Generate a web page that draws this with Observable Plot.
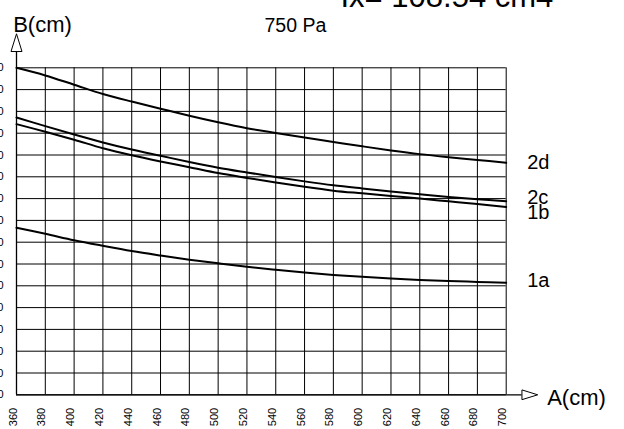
<!DOCTYPE html>
<html>
<head>
<meta charset="utf-8">
<script src="https://cdn.jsdelivr.net/npm/d3@7"></script>
<script src="https://cdn.jsdelivr.net/npm/@observablehq/plot@0.6"></script>
<style>
  html, body { margin: 0; padding: 0; background: white; }
  #chart svg { display: block; }
</style>
</head>
<body>
<div id="chart"></div>
<script>
// ---- data ----
const xTicks = [360, 380, 400, 420, 440, 460, 480, 500, 520, 540, 560, 580, 600, 620, 640, 660, 680, 700];
const yTicks = [0, 20, 40, 60, 80, 100, 120, 140, 160, 180, 200, 220, 240, 260, 280, 300];
const seriesNames = ["2d", "2c", "1b", "1a"];
const b2d = [300, 293, 284.5, 276, 269, 262.5, 256, 250, 244.6, 240.2, 236, 232, 228, 224.2, 220.8, 218, 215.5, 212.8];
const b2c = [254.4, 246.5, 238.8, 231.5, 225, 219.3, 213.6, 208.4, 204, 199.8, 195.8, 192.2, 189.3, 186.6, 184, 181.5, 179.4, 177.6];
const b1b = [248.3, 241.3, 234, 226.2, 219.7, 214, 208.8, 203.4, 199, 194.8, 190.8, 187.3, 184.8, 182.4, 180, 177.5, 175, 172.3];
const b1a = [153.2, 147.7, 141.8, 136.7, 131.9, 127.8, 124, 120.6, 117.4, 114.7, 112.2, 110, 108.2, 106.7, 105.4, 104.4, 103.6, 102.8];
const titleText = "Ix= 108.54 cm4";
const subText = "750 Pa";
const yLabel = "B(cm)";
const xLabel = "A(cm)";

const seriesValues = [b2d, b2c, b1b, b1a];
const rows = seriesNames.flatMap((s, i) => xTicks.map((x, j) => ({series: s, x, y: seriesValues[i][j]})));
const ends = seriesNames.map((s, i) => ({series: s, x: xTicks[xTicks.length - 1], y: seriesValues[i][xTicks.length - 1]}));

const font = "Liberation Sans, Arial, Helvetica, sans-serif";

// tall open triangle symbol (points up)
const arrowSymbol = {
  draw(context, size) {
    const r = Math.sqrt(size / Math.PI);
    context.moveTo(0, -r);
    context.lineTo(0.61 * r, 0.97 * r);
    context.lineTo(-0.61 * r, 0.97 * r);
    context.closePath();
  }
};

// vertical label offsets (px) so the end labels do not collide
const labelDy = {"2d": 6, "2c": 2.6, "1b": 12.3, "1a": 4.4};
const labelMarks = ends.map(e =>
  Plot.text([e], {x: "x", y: "y", text: "series", textAnchor: "start", lineAnchor: "bottom",
    dx: 21, dy: labelDy[e.series], fontSize: 20, fill: "black"})
);

const chart = Plot.plot({
  width: 624,
  height: 429,
  marginLeft: 16,
  marginRight: 118.3,
  marginTop: 67.3,
  marginBottom: 34.7,
  x: {domain: [360, 700], axis: null},
  y: {domain: [0, 300], axis: null},
  style: {fontFamily: font, background: "white", color: "black"},
  marks: [
    Plot.ruleX(xTicks, {stroke: "black", strokeWidth: 1}),
    Plot.ruleY(yTicks, {stroke: "black", strokeWidth: 1}),
    // axes with arrows
    Plot.ruleX([360], {stroke: "black", strokeWidth: 1.3, insetTop: -29}),
    Plot.ruleY([0], {stroke: "black", strokeWidth: 1.3, insetRight: -16}),
    Plot.dot([0], {x: () => 360, y: () => 300, symbol: arrowSymbol, r: 9, dy: -25, fill: "white", stroke: "black", strokeWidth: 1}),
    Plot.dot([0], {x: () => 700, y: () => 0, symbol: arrowSymbol, r: 8, dx: 23.5, rotate: 90, fill: "white", stroke: "black", strokeWidth: 1}),
    // curves
    Plot.line(rows, {x: "x", y: "y", z: "series", stroke: "black", strokeWidth: 2, curve: "catmull-rom"}),
    // curve labels
    ...labelMarks,
    // tick labels
    Plot.text(yTicks, {y: d => d, text: d => String(d), frameAnchor: "left", textAnchor: "end", dx: -13, fontSize: 11, fill: "black"}),
    Plot.text(xTicks, {x: d => d, text: d => String(d), frameAnchor: "bottom", rotate: -90, textAnchor: "end", dy: 13, fontSize: 11, fill: "black"}),
    // titles
    Plot.text([yLabel], {frameAnchor: "top-left", text: d => d, textAnchor: "start", lineAnchor: "bottom", dx: -3.3, dy: -36.3, fontSize: 22, fill: "black"}),
    Plot.text([subText], {frameAnchor: "top-left", text: d => d, textAnchor: "start", lineAnchor: "bottom", dx: 248, dy: -35.6, fontSize: 19.5, fill: "black"}),
    Plot.text([titleText], {frameAnchor: "top-left", text: d => d, textAnchor: "start", lineAnchor: "bottom", dx: 324, dy: -60.6, fontSize: 31, fill: "black"}),
    Plot.text([xLabel], {frameAnchor: "bottom-right", text: d => d, textAnchor: "start", lineAnchor: "bottom", dx: 41, dy: 9.7, fontSize: 22, fill: "black"})
  ]
});
document.getElementById("chart").appendChild(chart);
</script>
</body>
</html>
